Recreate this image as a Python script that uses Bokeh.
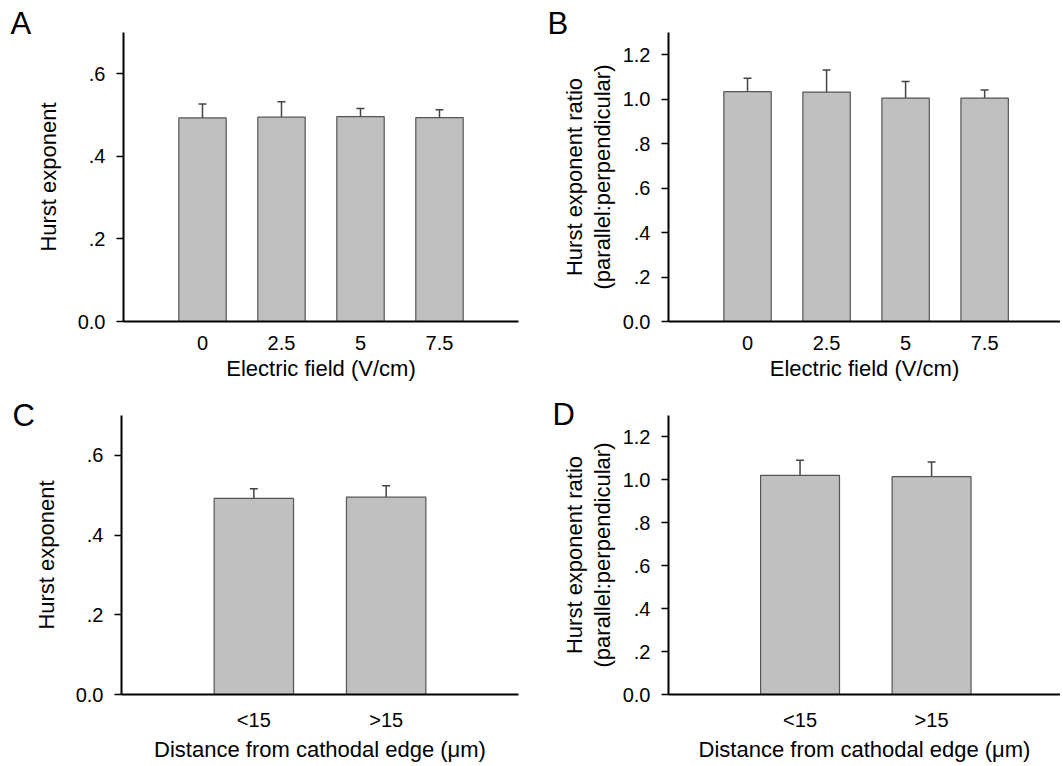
from bokeh.plotting import figure
from bokeh.layouts import column, row
from bokeh.models import (ColumnDataSource, Range1d, FixedTicker, CustomJSTickFormatter,
                          Whisker, TeeHead)
from bokeh.embed import file_html
from bokeh.resources import INLINE

# ---------------- data ----------------
field_labels = ["0", "2.5", "5", "7.5"]
hurst_field_mean = [0.493, 0.495, 0.496, 0.494]
hurst_field_err = [0.034, 0.037, 0.020, 0.019]
ratio_field_mean = [1.034, 1.032, 1.005, 1.005]
ratio_field_err = [0.060, 0.099, 0.075, 0.036]

dist_labels = ["<15", ">15"]
hurst_dist_mean = [0.492, 0.495]
hurst_dist_err = [0.024, 0.029]
ratio_dist_mean = [1.021, 1.015]
ratio_dist_err = [0.070, 0.068]

hurst_ticks = [0.0, 0.2, 0.4, 0.6]
hurst_tick_labels = ["0.0", ".2", ".4", ".6"]
ratio_ticks = [0.0, 0.2, 0.4, 0.6, 0.8, 1.0, 1.2]
ratio_tick_labels = ["0.0", ".2", ".4", ".6", ".8", "1.0", "1.2"]

FONT = "Liberation Sans"
BAR_FILL = "#c0c0c0"
BAR_LINE = "#555555"
ERR_COLOR = "#444444"


def make_panel(letter, cats, means, errs, ytop, yticks, ytick_labels, ylabel, xlabel,
               width, height, borders, xrange, letter_offset, letter_standoff,
               ylabel_standoff):
    bl, br, bt, bb = borders
    p = figure(width=width, height=height, output_backend="svg", toolbar_location=None,
               x_range=Range1d(*xrange), y_range=Range1d(0, ytop),
               min_border_left=bl, min_border_right=br, min_border_top=bt,
               min_border_bottom=bb, title=letter)
    p.background_fill_color = "white"
    p.border_fill_color = "white"
    p.outline_line_color = None
    p.grid.visible = False

    # panel letter as the figure title, pulled left into the border
    p.title.text_font = FONT
    p.title.text_font_size = "31px"
    p.title.text_font_style = "normal"
    p.title.text_color = "black"
    p.title.align = "left"
    p.title.offset = letter_offset
    p.title.standoff = letter_standoff

    xs = list(range(len(cats)))
    src = ColumnDataSource(dict(x=xs, mean=means,
                                upper=[m + e for m, e in zip(means, errs)]))
    p.vbar(x="x", top="mean", bottom=0, width=0.6, source=src,
           fill_color=BAR_FILL, line_color=BAR_LINE, line_width=1.2)
    w = Whisker(source=src, base="x", lower="mean", upper="upper",
                line_color=ERR_COLOR, line_width=1.5,
                upper_head=TeeHead(size=8, line_color=ERR_COLOR, line_width=1.5),
                lower_head=None)
    p.add_layout(w)

    # x axis
    xa = p.xaxis[0]
    xa.ticker = FixedTicker(ticks=xs)
    xa.formatter = CustomJSTickFormatter(args=dict(catnames=cats),
                                         code="const i = Math.round(tick); return (i >= 0 && i < catnames.length) ? catnames[i] : '';")
    xa.major_tick_out = 0
    xa.major_tick_in = 0
    xa.minor_tick_out = 0
    xa.minor_tick_in = 0
    xa.axis_line_width = 2
    xa.axis_line_color = "black"
    xa.major_label_text_font = FONT
    xa.major_label_text_font_size = "20px"
    xa.major_label_text_color = "black"
    xa.major_label_standoff = 14
    xa.axis_label = xlabel
    xa.axis_label_text_font = FONT
    xa.axis_label_text_font_size = "22px"
    xa.axis_label_text_font_style = "normal"
    xa.axis_label_text_color = "black"
    xa.axis_label_standoff = 3

    # y axis
    ya = p.yaxis[0]
    ya.ticker = FixedTicker(ticks=yticks)
    ya.formatter = CustomJSTickFormatter(args=dict(tvals=yticks, tlabs=ytick_labels),
                                         code="for (let i = 0; i < tvals.length; i++) { if (Math.abs(tvals[i] - tick) < 1e-9) return tlabs[i]; } return '';")
    ya.major_tick_out = 7
    ya.major_tick_in = 0
    ya.minor_tick_out = 0
    ya.minor_tick_in = 0
    ya.major_tick_line_width = 1.5
    ya.major_tick_line_color = "black"
    ya.axis_line_width = 2
    ya.axis_line_color = "black"
    ya.major_label_text_font = FONT
    ya.major_label_text_font_size = "20px"
    ya.major_label_text_color = "black"
    ya.major_label_standoff = 11
    ya.axis_label = ylabel
    ya.axis_label_text_font = FONT
    ya.axis_label_text_font_size = "22px"
    ya.axis_label_text_font_style = "normal"
    ya.axis_label_text_color = "black"
    ya.axis_label_text_line_height = 1.1
    ya.axis_label_standoff = ylabel_standoff
    return p


pA = make_panel("A", field_labels, hurst_field_mean, hurst_field_err, 0.7,
                hurst_ticks, hurst_tick_labels, "Hurst exponent", "Electric field (V/cm)",
                530, 388, (123, 12, 32, 67), (-1, 4), -113, -16, 14)
pB = make_panel("B", field_labels, ratio_field_mean, ratio_field_err, 1.3,
                ratio_ticks, ratio_tick_labels,
                "Hurst exponent ratio\n(parallel:perpendicular)", "Electric field (V/cm)",
                530, 388, (138, 0, 32, 67), (-1, 3.96), -121, -16, 5)
pC = make_panel("C", dist_labels, hurst_dist_mean, hurst_dist_err, 0.7,
                hurst_ticks, hurst_tick_labels, "Hurst exponent",
                "Distance from cathodal edge (\u03bcm)",
                530, 376, (121, 12, 27, 61), (-1, 2), -109, -34, 14)
pD = make_panel("D", dist_labels, ratio_dist_mean, ratio_dist_err, 1.3,
                ratio_ticks, ratio_tick_labels,
                "Hurst exponent ratio\n(parallel:perpendicular)",
                "Distance from cathodal edge (\u03bcm)",
                530, 376, (138, 0, 26, 61), (-1, 1.98), -116, -32, 5)

layout = column(row(pA, pB, spacing=0), row(pC, pD, spacing=0), spacing=0)

with open("out.html", "w") as f:
    f.write(file_html(layout, INLINE))
